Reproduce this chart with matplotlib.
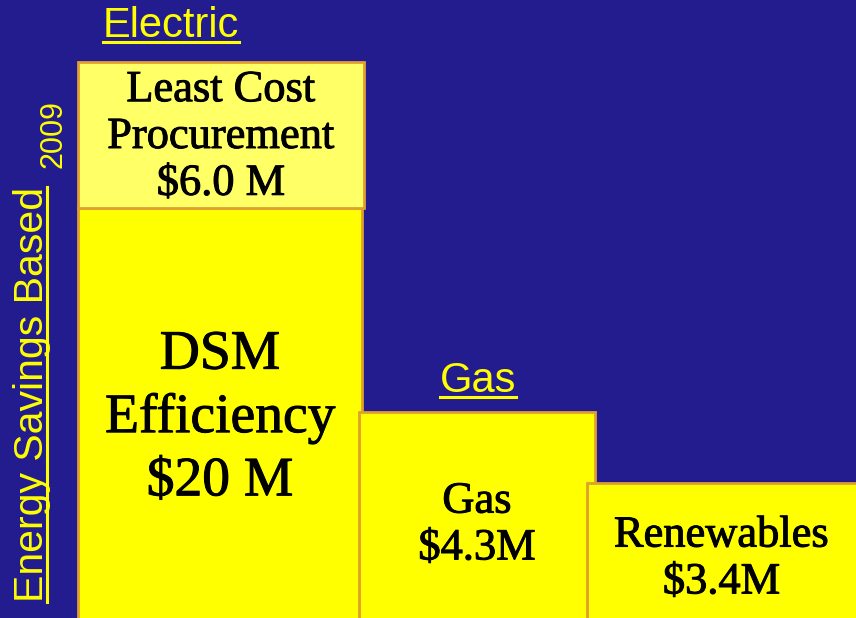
import matplotlib
matplotlib.use("Agg")
import matplotlib.pyplot as plt
import matplotlib.patheffects as pe

# block labels and the heights (blocks are not to scale)
labels = ["DSM\nEfficiency\n$20 M", "Least Cost\nProcurement\n$6.0 M",
          "Gas\n$4.3M", "Renewables\n$3.4M"]
values = [20, 6.0, 4.3, 3.4]
heights = [410, 146, 206, 135]
groups = ["Electric", "Electric", "Gas", "Gas"]

BG = "#231c8f"
YEL = "#ffff00"
LIGHT = "#ffff66"
EDGE = "#e0a030"

fig = plt.figure(figsize=(8.56, 6.18), dpi=100)
fig.patch.set_facecolor(BG)
ax = fig.add_axes([0, 0, 1, 1])
ax.set_facecolor(BG)
ax.set_xlim(0, 856)
ax.set_ylim(0, 618)
ax.axis("off")

# layout of the blocks: left edge, width, base, colour, text size, line spacing
lefts = [78, 78, 359, 587]
widths = [284, 286, 236, 280]
bottoms = [-5, heights[0], -5, -5]
colors = [YEL, LIGHT, YEL, YEL]
fsizes = [40, 32, 32, 32]
lspace = [1.28, 1.22, 1.22, 1.22]
text_y = [200, 481, 93, 59]

bold = [pe.withStroke(linewidth=0.7, foreground="black")]
for i in range(len(labels)):
    ax.bar(lefts[i], heights[i] + (5 if bottoms[i] < 0 else 0), width=widths[i],
           bottom=bottoms[i], align="edge", color=colors[i],
           edgecolor=EDGE, linewidth=2, zorder=2 + i)
    ax.text(lefts[i] + min(widths[i], 856 - lefts[i]) / 2, text_y[i], labels[i],
            ha="center", va="center", fontsize=fsizes[i], family="Liberation Serif",
            linespacing=lspace[i], color="black", zorder=10, path_effects=bold)


def underlined(x, y, s, size, rot=0):
    t = ax.text(x, y, s, fontsize=size, color=YEL, family="Liberation Sans",
                ha="left", va="baseline", rotation=rot,
                rotation_mode="anchor", zorder=10)
    fig.canvas.draw()
    bb = t.get_window_extent().transformed(ax.transData.inverted())
    if rot == 0:
        ax.plot([bb.x0, bb.x1], [y - 5, y - 5], color=YEL, lw=2.2, zorder=10)
    else:
        ax.plot([x + 4, x + 4], [bb.y0, bb.y1], color=YEL, lw=2.2, zorder=10)
    return t


underlined(103, 581, groups[0], 30)
underlined(440, 226, groups[2], 30)
underlined(43, 16, "Energy Savings Based", 29.5, rot=90)
ax.text(62, 450, "2009", fontsize=22, color=YEL, family="Liberation Sans",
        rotation=90, ha="left", va="baseline", rotation_mode="anchor", zorder=10)

fig.savefig("out.png", dpi=100, facecolor=BG)
